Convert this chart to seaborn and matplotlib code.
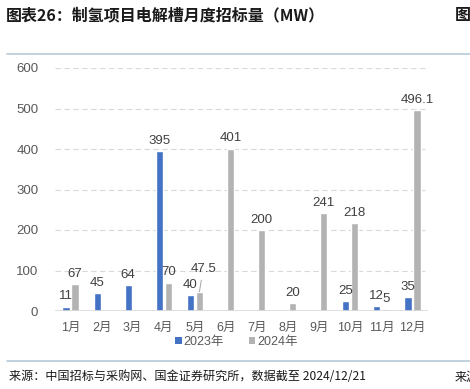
import numpy as np
import pandas as pd
import matplotlib
matplotlib.use("Agg")
import matplotlib.pyplot as plt
import seaborn as sns
from matplotlib.patches import Patch
from matplotlib.lines import Line2D

months = ["1月", "2月", "3月", "4月", "5月", "6月", "7月", "8月", "9月", "10月", "11月", "12月"]
v2023 = [11, 45, 64, 395, 40, np.nan, np.nan, np.nan, np.nan, 25, 12, 35]
v2024 = [67, np.nan, np.nan, 70, 47.5, 401, 200, 20, 241, 218, 5, 496.1]
series = ["2023年", "2024年"]
yticks = [0, 100, 200, 300, 400, 500, 600]

title = "图表26：制氢项目电解槽月度招标量（MW）"
source = "来源：中国招标与采购网、国金证券研究所，数据截至 2024/12/21"

sns.set_theme(style="white")
plt.rcParams["font.family"] = ["Liberation Sans", "Noto Sans CJK SC", "DejaVu Sans"]

df = pd.DataFrame({
    "month": months * 2,
    "value": v2023 + v2024,
    "year": [series[0]] * 12 + [series[1]] * 12,
}).dropna()

colors = {"2023年": "#4472C4", "2024年": "#B3B3B3"}

fig = plt.figure(figsize=(4.70, 3.89), dpi=100)
ax = fig.add_axes([55 / 470, 1 - 311 / 389, (428 - 55) / 470, (311 - 68) / 389])

sns.barplot(data=df, x="month", y="value", hue="year", order=months,
            hue_order=series, palette=colors, width=0.58, gap=0.2,
            saturation=1, legend=False, ax=ax, errorbar=None)

ax.set_xlim(-0.5, 11.5)
ax.set_ylim(0, 600)
ax.set_yticks(yticks)
ax.set_xlabel("")
ax.set_ylabel("")
for s in ax.spines.values():
    s.set_visible(False)
ax.grid(False)
for y in yticks[1:]:
    ax.axhline(y, color="#D9D9D9", lw=0.8, ls=(0, (5, 3)), zorder=0)
ax.axhline(0, color="#D9D9D9", lw=1.2, zorder=3)
ax.tick_params(axis="y", length=0, pad=12, labelsize=9.5, labelcolor="#595959")
ax.tick_params(axis="x", length=0, pad=8, labelsize=9, labelcolor="#595959")

# data labels
for cont in ax.containers:
    for bar in cont:
        h = bar.get_height()
        if not np.isfinite(h):
            continue
        xc = bar.get_x() + bar.get_width() / 2
        lab = f"{h:g}"
        if lab == "47.5":
            ax.annotate(lab, xy=(xc, h), xytext=(xc + 0.12, h + 55),
                        ha="center", va="center", fontsize=9.5, color="#404040",
                        arrowprops=dict(arrowstyle="-", color="#A6A6A6", lw=0.7,
                                        shrinkA=1, shrinkB=0))
        else:
            ax.annotate(lab, xy=(xc, h), xytext=(0, 3), textcoords="offset points",
                        ha="center", va="bottom", fontsize=9.5, color="#404040")

# legend
handles = [Patch(facecolor=colors[s], edgecolor="none") for s in series]
fig.legend(handles, series, loc="center", bbox_to_anchor=(0.503, 1 - 342 / 389),
           ncol=2, frameon=False, fontsize=9, labelcolor="#595959",
           handlelength=0.5, handleheight=0.5, handletextpad=0.15,
           columnspacing=2.0)

# header / footer
fig.text(6 / 470, 1 - 15 / 389, title, fontsize=11.5, fontweight="bold",
         family=["Noto Sans CJK SC", "DejaVu Sans"], color="#1A1A1A",
         ha="left", va="center")
fig.text(455 / 470, 1 - 15 / 389, "图表", fontsize=11.5, fontweight="bold",
         family=["Noto Sans CJK SC", "DejaVu Sans"], color="#1A1A1A",
         ha="left", va="center")
fig.add_artist(Line2D([7 / 470, 1], [1 - 54 / 389] * 2, color="#B7C9D9", lw=1.2))
fig.add_artist(Line2D([7 / 470, 1], [1 - 361 / 389] * 2, color="#B7C9D9", lw=1.2))
fig.text(9 / 470, 1 - 377 / 389, source, fontsize=8.7,
         family=["Noto Sans CJK SC", "DejaVu Sans"], color="#1A1A1A",
         ha="left", va="center")
fig.text(455 / 470, 1 - 377 / 389, "来源", fontsize=8.7,
         family=["Noto Sans CJK SC", "DejaVu Sans"], color="#1A1A1A",
         ha="left", va="center")

fig.savefig("out.png", dpi=100)
